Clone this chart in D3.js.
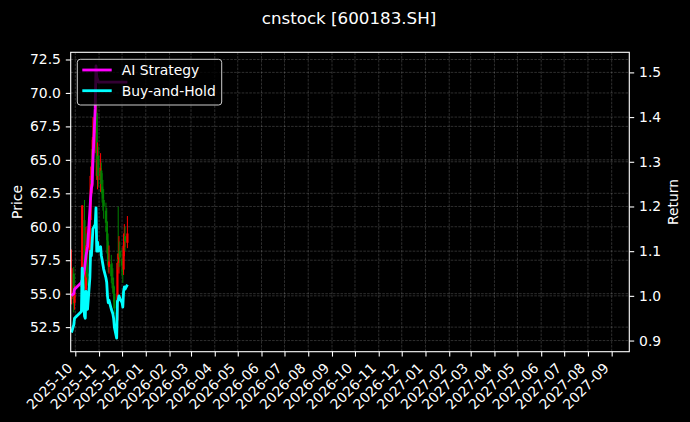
<!DOCTYPE html>
<html><head><meta charset="utf-8">
<script src="https://cdn.jsdelivr.net/npm/d3@7"></script>
<style>html,body{margin:0;padding:0;background:#000;} svg{display:block;}</style>
</head><body>
<svg id="chart" width="690" height="422"></svg>
<script>
const dates = ["2025-09-26","2025-09-29","2025-09-30","2025-10-09","2025-10-10","2025-10-13","2025-10-14","2025-10-15","2025-10-16","2025-10-17","2025-10-20","2025-10-21","2025-10-22","2025-10-23","2025-10-24","2025-10-27","2025-10-28","2025-10-29","2025-10-30","2025-10-31","2025-11-03","2025-11-04","2025-11-05","2025-11-06","2025-11-07","2025-11-10","2025-11-11","2025-11-12","2025-11-13","2025-11-14","2025-11-17","2025-11-18","2025-11-19","2025-11-20","2025-11-21","2025-11-24","2025-11-25","2025-11-26","2025-11-27","2025-11-28","2025-12-01","2025-12-02","2025-12-03","2025-12-04","2025-12-05","2025-12-08"];
const openP  = [54.6,56.5,54.3,55.5,56.5,60.5,55.0,55.3,58.2,56.5,56.8,60.5,63.5,63.0,65.2,67.0,67.5,68.5,63.5,65.3,63.5,64.2,63.0,62.8,62.0,61.2,60.0,59.5,58.0,57.0,57.2,56.2,55.8,55.6,55.0,53.6,53.0,57.6,57.3,58.2,57.6,57.0,56.8,58.5,59.3,58.8];
const highP  = [58.3,57.0,55.6,57.8,61.6,62.0,56.8,60.0,59.5,58.0,61.2,64.5,65.8,66.5,68.2,69.5,72.02,69.6,66.3,66.0,65.5,64.8,64.0,63.5,62.8,61.8,61.4,60.4,58.9,58.6,57.9,57.3,56.9,56.2,55.5,54.2,58.0,61.5,59.3,58.9,58.4,57.6,59.5,60.2,60.0,60.8];
const lowP   = [54.2,53.6,53.8,55.0,56.2,55.4,54.2,55.0,56.2,55.6,56.5,60.0,62.4,62.5,64.0,65.5,67.0,63.5,62.8,63.0,62.6,62.5,61.8,61.2,60.6,59.6,59.0,57.6,56.6,56.5,55.8,55.4,55.0,54.4,53.5,51.68,52.8,56.8,56.5,57.0,56.3,55.8,56.4,57.8,58.2,58.4];
const closeP = [56.9,54.2,55.1,56.0,61.6,55.4,55.1,58.6,56.6,56.3,60.3,63.8,63.2,65.0,66.7,67.3,69.4,63.8,65.0,63.8,64.4,63.2,62.6,62.1,61.5,60.3,59.7,58.0,57.1,57.4,56.3,56.0,55.7,55.1,53.9,52.5,57.3,57.4,58.0,57.7,57.1,56.6,58.6,59.2,58.9,59.5];
const aiStrategy = [1.000,1.005,1.015,1.030,1.035,1.060,1.075,1.090,1.100,1.110,1.190,1.220,1.240,1.250,1.300,1.420,1.5145,1.490,1.485,1.478,1.478,1.478,1.478,1.478,1.478,1.478,1.478,1.478,1.478,1.478,1.478,1.478,1.478,1.478,1.478,1.478,1.478,1.478,1.478,1.478,1.478,1.478,1.478,1.478,1.478,1.478];
const buyHold = [0.918,0.935,0.950,0.965,1.062,0.955,0.950,1.010,0.975,0.970,1.040,1.100,1.090,1.120,1.150,1.160,1.197,1.100,1.120,1.100,1.110,1.090,1.080,1.070,1.060,1.040,1.030,1.000,0.985,0.990,0.970,0.965,0.960,0.950,0.930,0.9055,0.988,0.990,1.000,0.995,0.985,0.975,1.010,1.020,1.015,1.025];
const priceTicks = [52.5,55.0,57.5,60.0,62.5,65.0,67.5,70.0,72.5];
const returnTicks = [0.9,1.0,1.1,1.2,1.3,1.4,1.5];
const monthTicks = ["2025-10","2025-11","2025-12","2026-01","2026-02","2026-03","2026-04","2026-05","2026-06","2026-07","2026-08","2026-09","2026-10","2026-11","2026-12","2027-01","2027-02","2027-03","2027-04","2027-05","2027-06","2027-07","2027-08","2027-09"];
const seriesNames = ["AI Strategy","Buy-and-Hold"];
const titleText = "cnstock [600183.SH]";

const W = 690, H = 422;
const L = 70.7, R = 629.3, T = 52.3, B = 351.7;
const FONT = "DejaVu Sans, Liberation Sans, sans-serif";
const FS = 13.9;

const parse = d3.utcParse("%Y-%m-%d");
const parseM = d3.utcParse("%Y-%m");
const data = dates.map((d,i)=>({date:parse(d),o:openP[i],h:highP[i],l:lowP[i],c:closeP[i],ai:aiStrategy[i],bh:buyHold[i]}));

const svg = d3.select("#chart");
svg.append("rect").attr("width",W).attr("height",H).attr("fill","#000");

const x = d3.scaleUtc().domain([new Date(Date.UTC(2025,8,25)), new Date(Date.UTC(2027,8,24))]).range([L,R]);
const pMin = d3.min(lowP), pMax = d3.max(highP), pPad = (pMax-pMin)*0.05;
const yP = d3.scaleLinear().domain([pMin-pPad,pMax+pPad]).range([B,T]);
const rAll = aiStrategy.concat(buyHold);
const rMin = d3.min(rAll), rMax = d3.max(rAll), rPad = (rMax-rMin)*0.05;
const yR = d3.scaleLinear().domain([rMin-rPad,rMax+rPad]).range([B,T]);

const monthDates = monthTicks.map(parseM);

// grid
const grid = svg.append("g").attr("stroke","#fff").attr("stroke-opacity",0.3).attr("stroke-width",0.6).attr("stroke-dasharray","2.6,1.2").attr("fill","none");
monthDates.forEach(d=>grid.append("line").attr("x1",x(d)).attr("x2",x(d)).attr("y1",T).attr("y2",B));
priceTicks.forEach(v=>grid.append("line").attr("x1",L).attr("x2",R).attr("y1",yP(v)).attr("y2",yP(v)));
returnTicks.forEach(v=>grid.append("line").attr("x1",L).attr("x2",R).attr("y1",yR(v)).attr("y2",yR(v)));

// candles
const cg = svg.append("g");
data.forEach(d=>{
  const col = d.c >= d.o ? "#ff0000" : "#008000";
  const cx = x(d.date);
  cg.append("line").attr("x1",cx).attr("x2",cx).attr("y1",yP(d.h)).attr("y2",yP(d.l)).attr("stroke",col).attr("stroke-width",1);
  const top = yP(Math.max(d.o,d.c)), bot = yP(Math.min(d.o,d.c));
  cg.append("rect").attr("x",cx-1.1).attr("width",2.2).attr("y",top).attr("height",Math.max(0.8,bot-top)).attr("fill",col);
});

// lines
const lineAI = d3.line().x(d=>x(d.date)).y(d=>yR(d.ai));
const lineBH = d3.line().x(d=>x(d.date)).y(d=>yR(d.bh));
svg.append("path").datum(data).attr("d",lineAI).attr("fill","none").attr("stroke","#ff00ff").attr("stroke-width",2.8).attr("stroke-linejoin","round");
svg.append("path").datum(data).attr("d",lineBH).attr("fill","none").attr("stroke","#00ffff").attr("stroke-width",2.8).attr("stroke-linejoin","round");

// axes
const axB = d3.axisBottom(x).tickValues(monthDates).tickFormat(d3.utcFormat("%Y-%m")).tickSize(4.9).tickPadding(4.9);
const gB = svg.append("g").attr("transform",`translate(0,${B})`).call(axB);
gB.select(".domain").remove();
gB.selectAll(".tick line").attr("stroke","#fff").attr("stroke-width",1.1);
gB.selectAll(".tick text").attr("fill","#fff").attr("font-family",FONT).attr("font-size",FS)
  .attr("text-anchor","end").attr("dy",null).attr("y",null)
  .attr("transform","translate(-2.3,17.4) rotate(-45)");

const axLft = d3.axisLeft(yP).tickValues(priceTicks).tickFormat(d3.format(".1f")).tickSize(4.9).tickPadding(4.9);
const gL = svg.append("g").attr("transform",`translate(${L},0)`).call(axLft);
gL.select(".domain").remove();
gL.selectAll(".tick line").attr("stroke","#fff").attr("stroke-width",1.1);
gL.selectAll(".tick text").attr("fill","#fff").attr("font-family",FONT).attr("font-size",FS);

const axRt = d3.axisRight(yR).tickValues(returnTicks).tickFormat(d3.format(".1f")).tickSize(4.9).tickPadding(4.9);
const gR = svg.append("g").attr("transform",`translate(${R},0)`).call(axRt);
gR.select(".domain").remove();
gR.selectAll(".tick line").attr("stroke","#fff").attr("stroke-width",1.1);
gR.selectAll(".tick text").attr("fill","#fff").attr("font-family",FONT).attr("font-size",FS);

// spines
svg.append("rect").attr("x",L).attr("y",T).attr("width",R-L).attr("height",B-T).attr("fill","none").attr("stroke","#fff").attr("stroke-width",1.1);

// labels
svg.append("text").attr("transform",`translate(17,202) rotate(-90)`).attr("text-anchor","middle").attr("dominant-baseline","central")
  .attr("fill","#fff").attr("font-family",FONT).attr("font-size",FS).text("Price");
svg.append("text").attr("transform",`translate(673,202) rotate(-90)`).attr("text-anchor","middle").attr("dominant-baseline","central")
  .attr("fill","#fff").attr("font-family",FONT).attr("font-size",FS).text("Return");
svg.append("text").attr("x",349).attr("y",24).attr("text-anchor","middle")
  .attr("fill","#fff").attr("font-family",FONT).attr("font-size",16.7).text(titleText);

// legend
const lg = svg.append("g");
lg.append("rect").attr("x",77.3).attr("y",59.3).attr("width",144.4).attr("height",45.7).attr("rx",3)
  .attr("fill","#000").attr("fill-opacity",0.8).attr("stroke","#ccc").attr("stroke-width",1);
const legCols = ["#ff00ff","#00ffff"];
seriesNames.forEach((n,i)=>{
  const yy = 70 + i*20.7;
  lg.append("line").attr("x1",82.3).attr("x2",111.7).attr("y1",yy).attr("y2",yy).attr("stroke",legCols[i]).attr("stroke-width",2.8);
  lg.append("text").attr("x",121.7).attr("y",yy).attr("dominant-baseline","central")
    .attr("fill","#fff").attr("font-family",FONT).attr("font-size",FS).text(n);
});
</script>
</body></html>
